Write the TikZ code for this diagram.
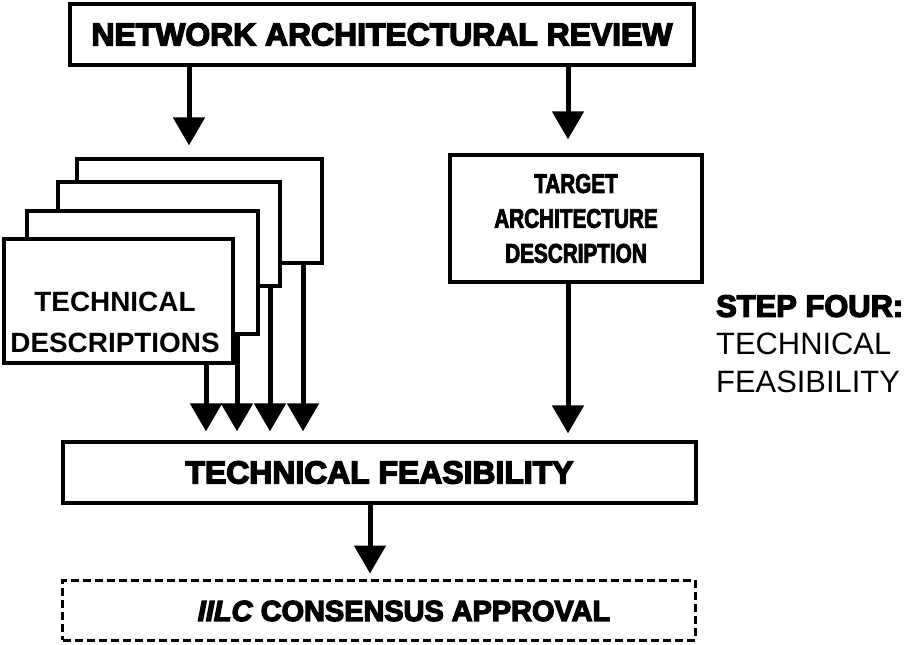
\documentclass[tikz,border=0pt]{standalone}
\usepackage{fontspec}
\setmainfont{Liberation Sans}
\newfontfamily\heavyfont{Liberation Sans}[BoldFeatures={FakeBold=4.5},BoldItalicFeatures={FakeBold=4.5}]
\newfontfamily\narrowfont{Liberation Sans}[FakeStretch=0.77,BoldFeatures={FakeStretch=0.77,FakeBold=3}]
\usetikzlibrary{positioning,arrows.meta,calc}

\begin{document}
\begin{tikzpicture}[
    x=1bp, y=-1bp,
    stagebox/.style  = {draw=black, line width=3.2bp, fill=white, inner sep=0pt},
    approvbox/.style = {draw=black, line width=3bp, dash pattern=on 8bp off 4bp, inner sep=0pt},
    flow/.style      = {line width=5bp, -{Triangle[length=28bp,width=31bp]}},
    heavylbl/.style  = {font=\heavyfont\bfseries\fontsize{32}{36}\selectfont, inner sep=0pt},
    narrowlbl/.style = {font=\narrowfont\bfseries\fontsize{27}{35}\selectfont, align=center, inner sep=0pt},
    desclbl/.style   = {font=\bfseries\fontsize{28}{41}\selectfont, align=center, inner sep=0pt},
    steplbl/.style   = {font=\fontsize{31}{38}\selectfont, align=left, inner sep=0pt, anchor=north west}
  ]
  \useasboundingbox (0,0) rectangle (914,645);
  \fill[white] (0,0) rectangle (914,645);

  % top stage
  \node[stagebox, heavylbl, minimum width=624bp, minimum height=61bp] (review) at (382,34.5)
    {NETWORK ARCHITECTURAL REVIEW};

  % stack of description sheets, back to front
  \node[stagebox, minimum width=245bp, minimum height=104bp] (desc4) at (199.5,211) {};
  \node[stagebox, minimum width=222bp, minimum height=104bp] (desc3) at (169,234) {};
  \node[stagebox, minimum width=231bp, minimum height=123bp] (desc2) at (142.5,272.5) {};
  \node[stagebox, minimum width=229bp, minimum height=124bp] (desc1) at (118.5,301) {};
  \node[desclbl] (desctext) at (115,322) {TECHNICAL\\DESCRIPTIONS};

  \node[stagebox, narrowlbl, minimum width=252bp, minimum height=127bp] (target) at (576,218.5)
    {TARGET\\ARCHITECTURE\\DESCRIPTION};

  \node[steplbl] (steptext) at (716,295)
    {{\heavyfont\bfseries STEP FOUR:}\\TECHNICAL\\FEASIBILITY};

  \node[stagebox, heavylbl, minimum width=633bp, minimum height=61bp] (feas) at (379.5,472.5)
    {TECHNICAL FEASIBILITY};

  \node[approvbox, minimum width=632bp, minimum height=60bp] (approval) at (379,610) {};
  \node[heavylbl, font=\heavyfont\bfseries\fontsize{29}{34}\selectfont] (approvtext) at (404,611)
    {\textit{IILC} CONSENSUS APPROVAL};

  % connectors
  \coordinate (lane0) at (189,0);
  \coordinate (lane5) at (568,0);
  \coordinate (lane6) at (370,0);
  \draw[flow, shorten >=12bp] (review.south -| lane0) -- (lane0 |- desc4.north);
  \draw[flow, shorten >=14bp] (review.south -| lane5) -- (lane5 |- target.north);
  \foreach \n/\x in {1/206,2/237,3/270,4/303}{
    \coordinate (drop\n) at (\x,0);
    \draw[flow, shorten >=9bp] (desc\n.south -| drop\n) -- (drop\n |- feas.north);
  }
  \draw[flow, shorten >=7bp] (target.south -| lane5) -- (lane5 |- feas.north);
  \draw[flow, shorten >=5bp] (feas.south -| lane6) -- (lane6 |- approval.north);
\end{tikzpicture}
\end{document}
